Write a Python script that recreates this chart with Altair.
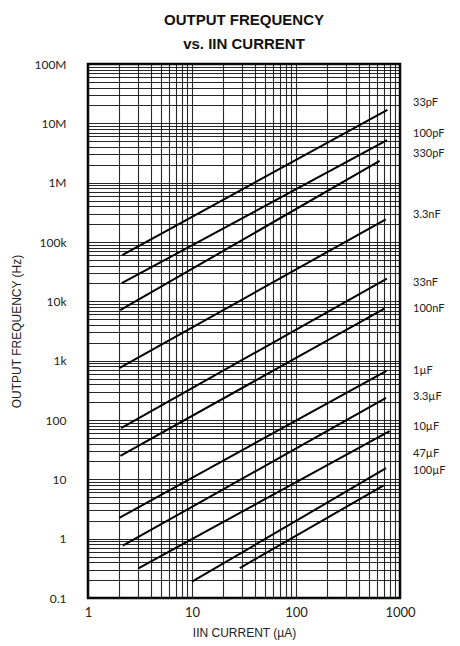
import altair as alt
import pandas as pd
import math

# Capacitor curves: start/end current (uA) and frequency (Hz)
caps = ["33pF", "100pF", "330pF", "3.3nF", "33nF", "100nF", "1µF", "3.3µF", "10µF", "47µF", "100µF"]
i_start = [2.13, 2.11, 2.04, 2.0, 2.08, 2.05, 2.0, 2.16, 3.05, 10.0, 28.8]
f_start = [6.0e4, 2.02e4, 7.1e3, 750, 73, 24.8, 2.24, 0.76, 0.316, 0.188, 0.32]
i_end = [757, 750, 637, 730, 748, 707, 741, 734, 794, 734, 697]
f_end = [1.69e7, 5.2e6, 2.32e6, 2.41e5, 2.42e4, 7.55e3, 675, 235, 65, 15.4, 7.9]
label_f = [2.2e7, 6.6e6, 3.1e6, 2.8e5, 2.0e4, 7.5e3, 670, 245, 76, 27, 14]

x_ticks = [1, 10, 100, 1000]
x_labels = ["1", "10", "100", "1000"]
y_ticks = [0.1, 1, 10, 100, 1e3, 1e4, 1e5, 1e6, 1e7, 1e8]
y_labels = ["0.1", "1", "10", "100", "1k", "10k", "100k", "1M", "10M", "100M"]

x_grid = [m * 10 ** e for e in range(0, 3) for m in range(1, 10)] + [1000]
y_grid = [m * 10.0 ** e for e in range(-1, 8) for m in range(1, 10)] + [1e8]

rows = []
for c, a, b, d, e in zip(caps, i_start, f_start, i_end, f_end):
    rows.append({"cap": c, "i": a, "f": b})
    rows.append({"cap": c, "i": d, "f": e})
lines_df = pd.DataFrame(rows)
labels_df = pd.DataFrame({"cap": caps, "f": label_f, "i": [1000] * len(caps)})


def label_expr(ticks, labels):
    expr = "''"
    for t, l in zip(reversed(ticks), reversed(labels)):
        expr = f"abs(log(datum.value)/LN10 - ({math.log10(t):.4f})) < 0.001 ? '{l}' : (" + expr + ")"
    return expr


TFONT = "Liberation Sans"
LFONT = "Lato"
XT = "IIN CURRENT (µA)"
YT = "OUTPUT FREQUENCY (Hz)"

xs = alt.Scale(type="log", domain=[1, 1000], nice=False)
ys = alt.Scale(type="log", domain=[0.1, 1e8], nice=False)

x_axis = alt.Axis(
    values=x_grid, labelExpr=label_expr(x_ticks, x_labels), grid=True,
    gridColor="#111", gridWidth=1.1, gridOpacity=0.9, tickSize=0, domain=False,
    labelFontSize=13, labelPadding=8, labelFont=LFONT, labelColor="#222",
    labelOverlap=False, labelFlush=False,
    title=XT, titleFontSize=12, titleFont=TFONT,
    titleFontWeight="normal", titlePadding=8, titleColor="#222")
y_axis = alt.Axis(
    values=y_grid, labelExpr=label_expr(y_ticks, y_labels), grid=True,
    gridColor="#111", gridWidth=1.1, gridOpacity=0.9, tickSize=0, domain=False,
    labelFontSize=12, labelPadding=22, labelFont=LFONT, labelColor="#222",
    labelOverlap=False, labelFlush=False,
    title=YT, titleFontSize=12, titleFont=TFONT,
    titleFontWeight="normal", titlePadding=10, titleColor="#222")

lines = alt.Chart(lines_df).mark_line(color="black", strokeWidth=2).encode(
    x=alt.X("i:Q", scale=xs, axis=x_axis, title=XT),
    y=alt.Y("f:Q", scale=ys, axis=y_axis, title=YT),
    detail="cap:N",
)

texts = alt.Chart(labels_df).mark_text(
    align="left", baseline="middle", dx=13, fontSize=11, font=LFONT, color="#222"
).encode(
    x=alt.X("i:Q", scale=xs, title=XT),
    y=alt.Y("f:Q", scale=ys, title=YT),
    text="cap:N",
)

chart = alt.layer(lines, texts).properties(
    width=312, height=534,
    autosize=alt.AutoSizeParams(type="none"),
    padding={"left": 80, "top": 56, "right": 52, "bottom": 46},
    title=alt.TitleParams(
        text=["OUTPUT FREQUENCY", "vs. IIN CURRENT"], font=TFONT, fontSize=15,
        fontWeight="bold", lineHeight=24, anchor="middle", offset=6, color="#111"),
).configure_view(stroke="black", strokeWidth=2.5)

chart.save("out.html", embed_options={"renderer": "svg", "actions": False})
